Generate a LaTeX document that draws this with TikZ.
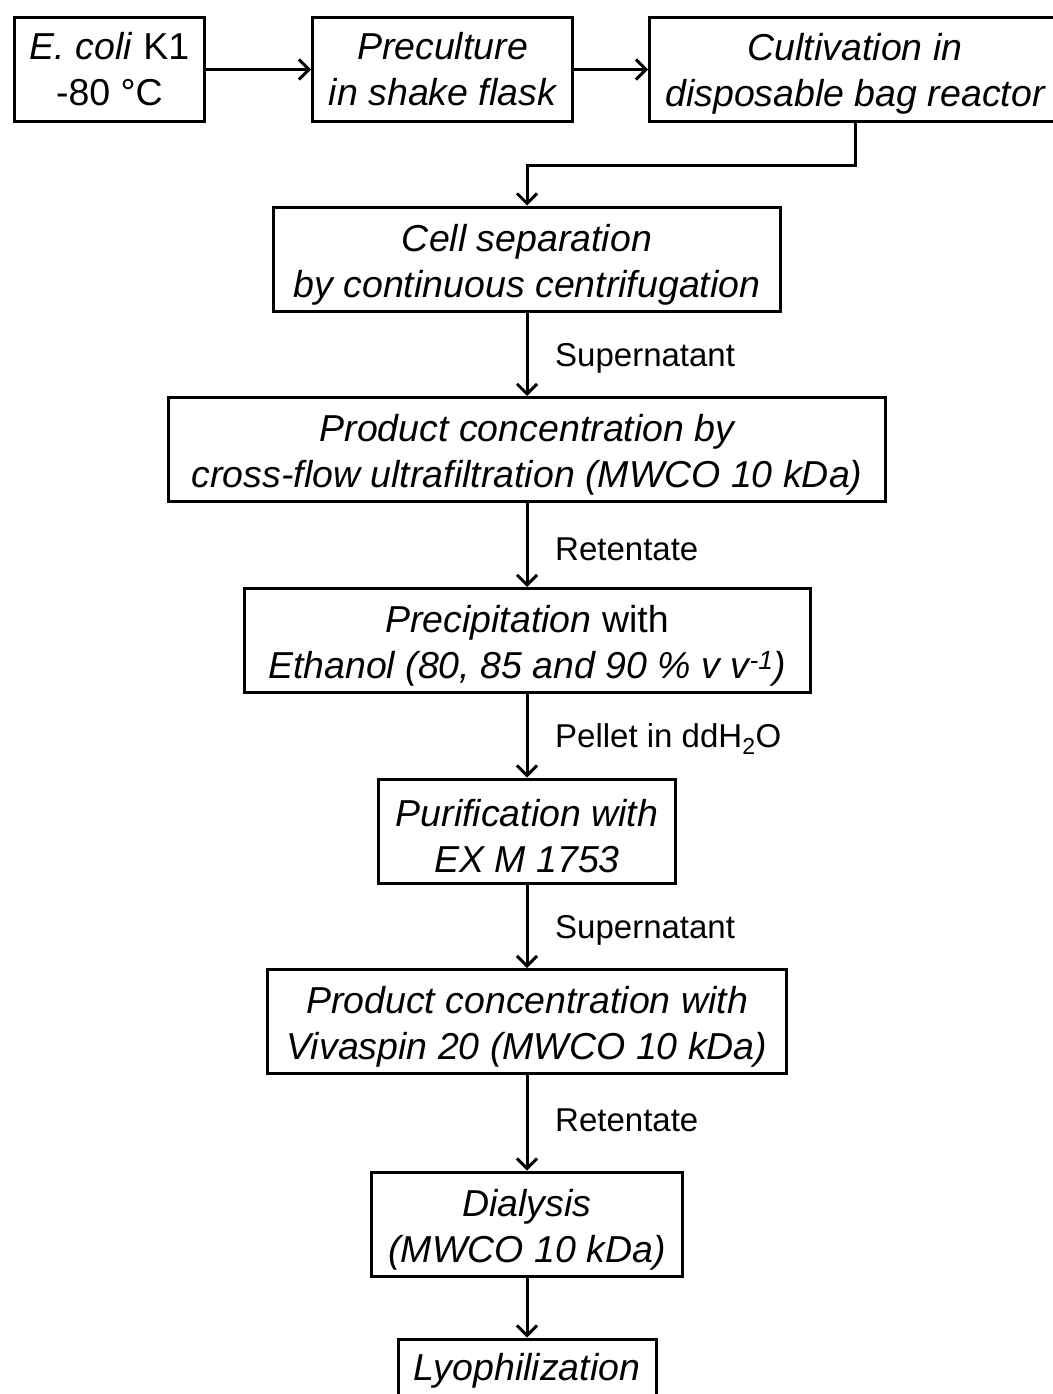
\documentclass[tikz,border=0pt]{standalone}
\usepackage{fontspec}
\setmainfont{Liberation Sans}
\usetikzlibrary{arrows.meta}
\newcommand\toppad{\rule{0pt}{38pt}}
\begin{document}
\begin{tikzpicture}[x=1pt,y=-1pt,
  box/.style={draw, line width=3pt, inner sep=0pt, minimum height=104pt, align=center,
    font=\fontsize{37.5}{46}\selectfont},
  lbl/.style={anchor=west, inner sep=0pt, font=\fontsize{33}{40}\selectfont},
  arr/.style={line width=3pt, -{Straight Barb[length=10pt,width=20pt]}}]
\useasboundingbox (0,0) rectangle (1052,1394);
\node[box, minimum width=190pt] (n1) at (109.5,69.5) {\textit{E. coli} K1\\-80 °C};
\node[box, minimum width=260pt] (n2) at (442.5,69.5) {\itshape Preculture\\\itshape in shake flask};
\node[box, minimum width=411pt] (n3) at (855,69.5) {\rule{0pt}{35pt}\itshape Cultivation in\\\itshape disposable bag reactor};
\node[box, minimum width=507pt] (n4) at (527,259) {\toppad\itshape Cell separation\\\itshape by continuous centrifugation};
\node[box, minimum width=717pt] (n5) at (527,449.5) {\toppad\itshape Product concentration by\\\itshape cross-flow ultrafiltration (MWCO 10 kDa)};
\node[box, minimum width=566pt] (n6) at (527,640.5) {\toppad\textit{Precipitation} with\\\itshape Ethanol (80, 85 and 90 \% v v\textsuperscript{-1})};
\node[box, minimum width=297pt] (n7) at (527,831) {\toppad\itshape Purification with\\\itshape EX M 1753};
\node[box, minimum width=519pt] (n8) at (527,1021.5) {\toppad\itshape Product concentration with\\\itshape Vivaspin 20 (MWCO 10 kDa)};
\node[box, minimum width=311pt] (n9) at (527,1224) {\toppad\itshape Dialysis\\\itshape (MWCO 10 kDa)};
\node[box, minimum width=258pt] (n10) at (527,1391) {\toppad\itshape Lyophilization\\\strut};
\draw[arr] (n1) -- (n2);
\draw[arr] (n2) -- (n3);
\draw[arr] (n3.south) -- ++(0,42) -| (n4.north);
\draw[arr] (n4) -- (n5);
\draw[arr] (n5) -- (n6);
\draw[arr] (n6) -- (n7);
\draw[arr] (n7) -- (n8);
\draw[arr] (n8) -- (n9);
\draw[arr] (n9) -- (n10);
\node[lbl] (l1) at (555,358) {Supernatant};
\node[lbl] (l2) at (555,549) {Retentate};
\node[lbl] (l3) at (555,739) {Pellet in ddH\textsubscript{2}O};
\node[lbl] (l4) at (555,930) {Supernatant};
\node[lbl] (l5) at (555,1120) {Retentate};
\end{tikzpicture}
\end{document}
